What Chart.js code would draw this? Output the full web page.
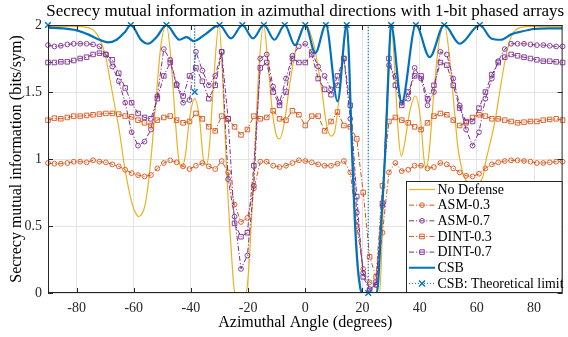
<!DOCTYPE html>
<html>
<head>
<meta charset="utf-8">
<script src="https://cdn.jsdelivr.net/npm/chart.js@4/dist/chart.umd.min.js"></script>
<style>
  html, body { margin: 0; padding: 0; background: #fff; }
</style>
</head>
<body>
<canvas id="smi-chart" width="568" height="337"></canvas>
<script>
// azimuth grid used by the ASM / DINT curves (markers every 2.25 deg)
const angles = [
  -90, -87.75, -85.5, -83.25, -81, -78.75, -76.5, -74.25, -72, -69.75,
  -67.5, -65.25, -63, -60.75, -58.5, -56.25, -54, -51.75, -49.5, -47.25,
  -45, -42.75, -40.5, -38.25, -36, -33.75, -31.5, -29.25, -27, -24.75,
  -22.5, -20.25, -18, -15.75, -13.5, -11.25, -9, -6.75, -4.5, -2.25,
  0, 2.25, 4.5, 6.75, 9, 11.25, 13.5, 15.75, 18, 20.25,
  22.5, 24.75, 27, 29.25, 31.5, 33.75, 36, 38.25, 40.5, 42.75,
  45, 47.25, 49.5, 51.75, 54, 56.25, 58.5, 60.75, 63, 65.25,
  67.5, 69.75, 72, 74.25, 76.5, 78.75, 81, 83.25, 85.5, 87.75,
  90
];

const asm03 = [
  0.97, 0.965, 0.965, 0.97, 0.98, 0.98, 0.975, 0.99, 0.98, 0.975,
  0.96, 0.945, 0.92, 0.895, 0.88, 0.87, 0.88, 0.93, 0.97, 0.99,
  0.975, 0.945, 0.925, 0.95, 0.97, 0.945, 0.925, 0.985, 0.9, 0.66,
  0.53, 0.56, 0.78, 0.98, 0.98, 0.95, 0.94, 0.95, 0.97, 0.99,
  0.985, 0.975, 0.96, 0.95, 0.95, 0.965, 0.985, 0.9, 0.5, 0.18,
  0.08, 0.06, 0.45, 0.9, 0.97, 0.91, 0.92, 0.95, 0.95, 0.93,
  0.94, 0.97, 0.96, 0.93, 0.9, 0.875, 0.87, 0.89, 0.93, 0.96,
  0.975, 0.985, 0.99, 0.99, 0.985, 0.98, 0.97, 0.97, 0.975, 0.98,
  0.98
];

const asm07 = [
  1.85, 1.84, 1.845, 1.855, 1.86, 1.86, 1.86, 1.855, 1.84, 1.78,
  1.69, 1.58, 1.42, 1.2, 1.1, 1.13, 1.22, 1.47, 1.82, 1.74,
  1.56, 1.42, 1.44, 1.8, 1.66, 1.55, 1.62, 1.8, 0.85, 0.57,
  0.18, 0.28, 0.8, 1.75, 1.78, 1.54, 1.42, 1.6, 1.77, 1.84,
  1.86, 1.8, 1.69, 1.62, 1.52, 1.55, 1.75, 1.3, 0.6, 0.15,
  0.03, 0.06, 0.65, 1.7, 1.62, 1.42, 1.45, 1.68, 1.6, 1.4,
  1.5, 1.8, 1.78, 1.6, 1.4, 1.22, 1.1, 1.2, 1.45, 1.6,
  1.73, 1.82, 1.86, 1.86, 1.86, 1.855, 1.85, 1.85, 1.845, 1.84,
  1.84
];

const dint03 = [
  1.29, 1.305, 1.3, 1.31, 1.32, 1.32, 1.325, 1.33, 1.335, 1.34,
  1.34, 1.335, 1.32, 1.315, 1.29, 1.27, 1.25, 1.29, 1.31, 1.32,
  1.29, 1.27, 1.28, 1.34, 1.3, 1.24, 1.21, 1.32, 1.3, 1.24,
  1.18, 1.22, 1.32, 1.3, 1.31, 1.36, 1.3, 1.29, 1.36, 1.33,
  1.25, 1.32, 1.32, 1.21, 1.28, 1.35, 1.25, 1.24, 1.15, 0.75,
  0.27, 0.12, 0.8, 1.28, 1.31, 1.29, 1.27, 1.24, 1.22, 1.27,
  1.32, 1.34, 1.33, 1.29, 1.25, 1.27, 1.31, 1.33, 1.32, 1.3,
  1.3, 1.29, 1.28, 1.27, 1.275, 1.28, 1.28, 1.29, 1.295, 1.3,
  1.29
];

const dint07 = [
  1.72, 1.72, 1.725, 1.725, 1.735, 1.75, 1.76, 1.78, 1.79, 1.78,
  1.74, 1.64, 1.53, 1.42, 1.34, 1.31, 1.3, 1.45, 1.62, 1.72,
  1.55, 1.47, 1.62, 1.68, 1.58, 1.45, 1.55, 1.8, 1.3, 0.52,
  0.42, 0.45, 0.95, 1.68, 1.72, 1.5, 1.4, 1.5, 1.75, 1.72,
  1.72, 1.78, 1.6, 1.52, 1.48, 1.62, 1.75, 1.4, 0.72, 0.12,
  0.02, 0.08, 0.67, 1.75, 1.55, 1.4, 1.5, 1.62, 1.62, 1.45,
  1.55, 1.72, 1.7, 1.55, 1.38, 1.28, 1.28, 1.38, 1.5, 1.63,
  1.72, 1.76, 1.78, 1.77, 1.76, 1.75, 1.74, 1.73, 1.73, 1.725,
  1.72
];

// No Defense, read at its turning points
const noDefAngles = [
  -90, -80, -76, -74, -72, -70, -68.3, -66.6, -64.9, -63.5,
  -62, -60.5, -59.4, -58.3, -57.2, -56, -54.9, -53.7, -52, -50.5,
  -48.6, -47, -45.5, -44.3, -43.2, -42, -40.5, -38.7, -37, -35.5,
  -34.5, -33.5, -32, -30.2, -29, -27.5, -26, -25, -24.6, -20.9,
  -20.3, -19.3, -18, -16.3, -14.6, -13, -11.5, -10, -9, -7.5,
  -5.5, -3, 0, 3, 5.5, 7.5, 9, 10.2, 11.8, 13.3,
  14.7, 15.7, 16.8, 18, 19.2, 19.7, 26, 26.7, 27.6, 28.5,
  29.4, 30.1, 31.2, 32.5, 33.6, 34.6, 36.5, 38.5, 40.3, 41.5,
  42.3, 43.3, 45, 46.8, 48.7, 50.5, 52, 53.3, 54.5, 55.5,
  57, 58.5, 60, 62, 63.3, 65, 66.5, 68, 70, 71.8,
  73, 75, 80, 90
];
const noDefValues = [
  1.99, 1.99, 1.98, 1.96, 1.9, 1.78, 1.59, 1.39, 1.19, 0.98,
  0.8, 0.66, 0.6, 0.57, 0.59, 0.66, 0.82, 1.07, 1.5, 1.85,
  2.0, 1.75, 1.3, 1.0, 0.94, 1.02, 1.3, 1.45, 1.3, 0.98,
  0.96, 1.1, 1.6, 2.0, 1.65, 0.9, 0.35, 0.05, 0, 0,
  0.05, 0.35, 0.9, 1.65, 2.0, 1.7, 1.35, 1.17, 1.15, 1.25,
  1.55, 1.85, 2.0, 1.85, 1.55, 1.25, 1.17, 1.2, 1.45, 1.8,
  2.0, 1.5, 0.9, 0.35, 0.05, 0, 0, 0.3, 0.9, 1.45,
  1.85, 2.0, 1.7, 1.2, 1.02, 1.1, 1.35, 1.47, 1.3, 1.0,
  0.93, 1.05, 1.5, 1.88, 2.0, 1.75, 1.4, 1.1, 0.95, 0.87,
  0.82, 0.8, 0.82, 0.86, 1.0, 1.15, 1.3, 1.5, 1.75, 1.9,
  1.95, 1.98, 1.99, 1.99
];

// CSB, read at its peaks and dips
const csbAngles = [
  -90, -85, -80, -76, -72, -69, -66, -63, -61.04, -57.5,
  -55, -52, -48.59, -44, -41.5, -39, -35, -30, -26, -22.02,
  -18.3, -14.48, -10.8, -7.18, -3.6, 0, 3.5, 7.18, 11.3, 14.48,
  15.3, 16.3, 17.3, 18.3, 19.3, 19.8, 24.9, 25.5, 26.5, 28,
  29.2, 30, 33.7, 38.68, 43.5, 48.59, 54, 61.04, 65, 68.5,
  72, 75.4, 80, 85, 90
];
const csbValues = [
  1.98, 1.975, 1.96, 1.93, 1.89, 1.87, 1.89, 1.95, 2.0, 1.89,
  1.86, 1.91, 2.0, 1.89, 1.91, 1.88, 1.93, 2.0, 1.9, 2.0,
  1.9, 2.0, 1.89, 2.0, 1.85, 2.0, 1.79, 2.0, 1.43, 2.0,
  1.75, 1.07, 0.55, 0.2, 0.03, 0, 0, 0.08, 0.5, 1.07,
  1.7, 2.0, 1.42, 2.0, 1.76, 2.0, 1.86, 2.0, 1.9, 1.89,
  1.93, 1.95, 1.97, 1.975, 1.975
];

// CSB theoretical limit at the beam directions
const limitAngles = [-90, -61.04, -48.59, -38.68, -30, -22.02, -14.48, -7.18, 0, 7.18, 14.48, 22.02, 30, 38.68, 48.59, 61.04];
const limitValues = [2, 2, 2, 1.5, 2, 2, 2, 2, 2, 2, 2, 0, 2, 2, 2, 2];

const xTicks = [-80, -60, -40, -20, 0, 20, 40, 60, 80];
const yTicks = [0, 0.5, 1, 1.5, 2];

const YELLOW = '#EDB120';
const ORANGE = '#D95319';
const PURPLE = '#7E2F8E';
const BLUE = '#0072BD';
const AXIS = '#262626';
const SERIF = '"Liberation Serif", "Times New Roman", serif';
const dashDot = [5, 2, 1.2, 2];

const toPoints = (xs, ys) => xs.map((x, i) => ({ x: x, y: ys[i] }));

// the dotted limit line drops vertically at the directions below 2
const limitLine = [];
limitAngles.forEach((a, i) => {
  if (limitValues[i] < 2) {
    limitLine.push({ x: a, y: 2 }, { x: a, y: limitValues[i] }, { x: a, y: 2 });
  } else {
    limitLine.push({ x: a, y: limitValues[i] });
  }
});
limitLine.push({ x: 90, y: 2 });

const markerSeries = (label, data, color, style, order) => ({
  label: label,
  data: toPoints(angles, data),
  borderColor: color,
  borderWidth: 1,
  borderDash: dashDot,
  pointStyle: style,
  pointRadius: style === 'rect' ? 3.2 : 2.4,
  pointBorderWidth: 0.9,
  pointBorderColor: color,
  pointBackgroundColor: 'rgba(255,255,255,0)',
  clip: false,
  order: order,
});

const legendItems = [
  { label: 'No Defense', color: YELLOW, width: 1.2, dash: [], marker: null },
  { label: 'ASM-0.3', color: ORANGE, width: 1, dash: dashDot, marker: 'circle' },
  { label: 'ASM-0.7', color: PURPLE, width: 1, dash: dashDot, marker: 'circle' },
  { label: 'DINT-0.3', color: ORANGE, width: 1, dash: dashDot, marker: 'rect' },
  { label: 'DINT-0.7', color: PURPLE, width: 1, dash: dashDot, marker: 'rect' },
  { label: 'CSB', color: BLUE, width: 2, dash: [], marker: null },
  { label: 'CSB: Theoretical limit', color: BLUE, width: 1, dash: [1, 2], marker: 'cross' },
];

const drawMarker = (ctx, style, x, y, color) => {
  ctx.save();
  ctx.setLineDash([]);
  ctx.strokeStyle = color;
  ctx.lineWidth = style === 'cross' ? 1.4 : 0.9;
  ctx.beginPath();
  if (style === 'circle') {
    ctx.arc(x, y, 2.4, 0, Math.PI * 2);
  } else if (style === 'rect') {
    ctx.rect(x - 2.3, y - 2.3, 4.6, 4.6);
  } else if (style === 'cross') {
    ctx.moveTo(x - 3, y - 3); ctx.lineTo(x + 3, y + 3);
    ctx.moveTo(x + 3, y - 3); ctx.lineTo(x - 3, y + 3);
  }
  ctx.stroke();
  ctx.restore();
};

const matlabLook = {
  id: 'matlabLook',
  afterDatasetsDraw(chart) {
    const { ctx, chartArea: a, scales } = chart;
    ctx.save();
    ctx.strokeStyle = AXIS;
    ctx.lineWidth = 1;
    ctx.beginPath();
    xTicks.forEach(v => {
      const px = Math.round(scales.x.getPixelForValue(v)) + 0.5;
      ctx.moveTo(px, a.bottom); ctx.lineTo(px, a.bottom - 5);
      ctx.moveTo(px, a.top); ctx.lineTo(px, a.top + 5);
    });
    yTicks.forEach(v => {
      const py = Math.round(scales.y.getPixelForValue(v)) + 0.5;
      ctx.moveTo(a.left, py); ctx.lineTo(a.left + 5, py);
      ctx.moveTo(a.right, py); ctx.lineTo(a.right - 5, py);
    });
    ctx.stroke();
    ctx.strokeRect(a.left + 0.5, a.top + 0.5, a.right - a.left - 1, a.bottom - a.top - 1);
    ctx.restore();
  },
  afterDraw(chart) {
    const { ctx, chartArea: a } = chart;
    const midX = (a.left + a.right) / 2;
    ctx.save();
    ctx.fillStyle = '#000';
    ctx.textAlign = 'center';
    ctx.textBaseline = 'middle';
    ctx.font = '17px ' + SERIF;
    ctx.fillText('Secrecy mutual information in azimuthal directions with 1-bit phased arrays', midX, 12, 522);
    ctx.font = '16px ' + SERIF;
    ctx.fillText('Azimuthal Angle (degrees)', midX, 323);
    ctx.save();
    ctx.translate(17, (a.top + a.bottom) / 2);
    ctx.rotate(-Math.PI / 2);
    ctx.fillText('Secrecy mutual information (bits/sym)', 0, 0);
    ctx.restore();

    // legend box, lower right corner of the axes
    const box = { left: 406.5, top: 181.5, right: a.right - 0.5, bottom: a.bottom - 0.5 };
    ctx.fillStyle = '#fff';
    ctx.fillRect(box.left, box.top, box.right - box.left, box.bottom - box.top);
    ctx.strokeStyle = AXIS;
    ctx.lineWidth = 1;
    ctx.strokeRect(box.left, box.top, box.right - box.left, box.bottom - box.top);
    ctx.font = '14px ' + SERIF;
    ctx.textAlign = 'left';
    legendItems.forEach((item, i) => {
      const y = 189.5 + i * 15.65;
      ctx.save();
      ctx.strokeStyle = item.color;
      ctx.lineWidth = item.width;
      ctx.setLineDash(item.dash);
      ctx.beginPath();
      ctx.moveTo(409, y); ctx.lineTo(435, y);
      ctx.stroke();
      ctx.restore();
      if (item.marker) drawMarker(ctx, item.marker, 422, y, item.color);
      ctx.fillStyle = '#000';
      ctx.fillText(item.label, 437.5, y + 0.5, 126);
    });
    ctx.restore();
  }
};

new Chart('smi-chart', {
  type: 'line',
  data: {
    datasets: [
      {
        label: 'CSB: Theoretical limit',
        data: toPoints(limitAngles, limitValues),
        showLine: false,
        pointStyle: 'crossRot',
        pointRadius: 4,
        pointBorderWidth: 1.4,
        pointBorderColor: BLUE,
        borderColor: BLUE,
        clip: false,
        order: 0,
      },
      {
        label: 'limit line',
        data: limitLine,
        borderColor: BLUE,
        borderWidth: 1,
        borderDash: [1, 2],
        pointRadius: 0,
        order: 1,
      },
      {
        label: 'CSB',
        data: toPoints(csbAngles, csbValues),
        borderColor: BLUE,
        borderWidth: 2.2,
        pointRadius: 0,
        cubicInterpolationMode: 'monotone',
        order: 2,
      },
      markerSeries('DINT-0.7', dint07, PURPLE, 'rect', 3),
      markerSeries('DINT-0.3', dint03, ORANGE, 'rect', 4),
      markerSeries('ASM-0.7', asm07, PURPLE, 'circle', 5),
      markerSeries('ASM-0.3', asm03, ORANGE, 'circle', 6),
      {
        label: 'No Defense',
        data: toPoints(noDefAngles, noDefValues),
        borderColor: YELLOW,
        borderWidth: 1.2,
        pointRadius: 0,
        cubicInterpolationMode: 'monotone',
        order: 7,
      },
    ],
  },
  options: {
    responsive: false,
    animation: false,
    events: [],
    layout: { padding: { top: 25, right: 2, left: 0, bottom: 0 } },
    plugins: {
      legend: { display: false },
      title: { display: false },
      tooltip: { enabled: false },
    },
    scales: {
      x: {
        type: 'linear',
        min: -90,
        max: 90,
        afterBuildTicks: axis => { axis.ticks = xTicks.map(v => ({ value: v })); },
        afterFit: axis => { axis.height = 44; },
        grid: { color: '#e3e3e3', drawTicks: false },
        border: { display: false },
        ticks: { padding: 7, color: AXIS, maxRotation: 0, autoSkip: false, font: { family: SERIF, size: 14 },
                 callback: v => String(v) },
      },
      y: {
        min: 0,
        max: 2,
        afterBuildTicks: axis => { axis.ticks = yTicks.map(v => ({ value: v })); },
        afterFit: axis => { axis.width = 48; },
        grid: { color: '#e3e3e3', drawTicks: false },
        border: { display: false },
        ticks: { padding: 6, color: AXIS, font: { family: SERIF, size: 14 }, callback: v => String(v) },
      },
    },
  },
  plugins: [matlabLook],
});
</script>
</body>
</html>
